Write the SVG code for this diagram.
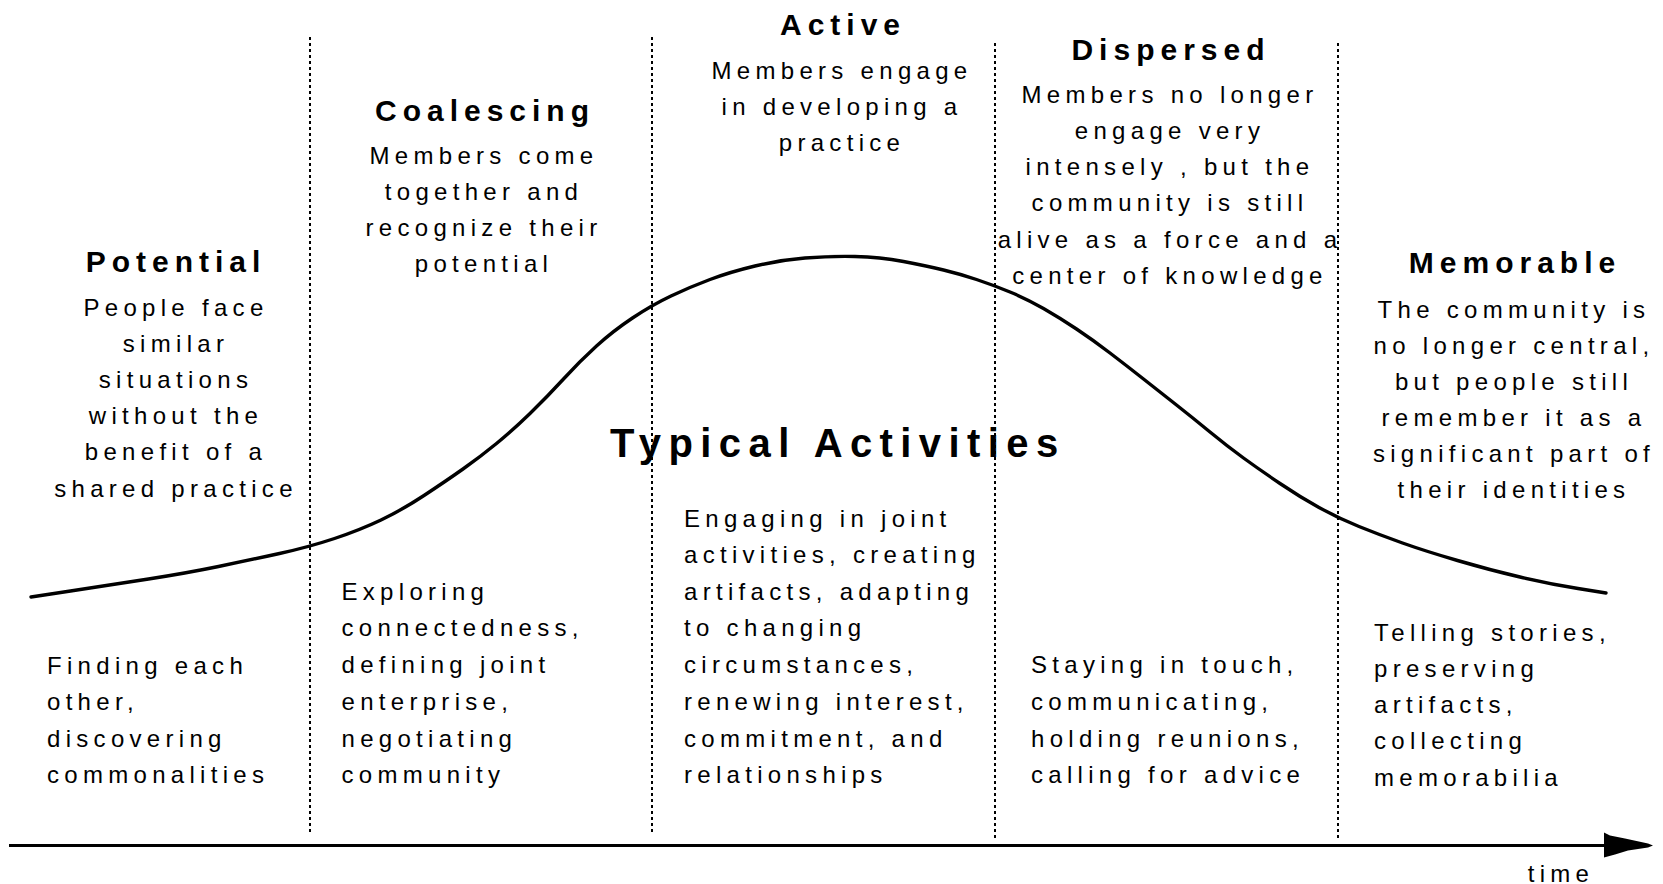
<svg xmlns="http://www.w3.org/2000/svg" width="1663" height="884" viewBox="0 0 1663 884">
<style>
text { font-family: "Liberation Sans", Arial, sans-serif; fill: #000; }
.h { font-weight: bold; font-size: 30px; letter-spacing: 6px; text-anchor: middle; }
.b { font-size: 24px; letter-spacing: 5.3px; text-anchor: middle; }
.l { font-size: 24px; letter-spacing: 5.3px; text-anchor: start; }
.t { font-weight: bold; font-size: 40px; letter-spacing: 7.4px; }
.div { stroke: #000; stroke-width: 2; stroke-dasharray: 3 3; fill: none; }
.curve { stroke: #000; stroke-width: 3.4; fill: none; stroke-linejoin: round; stroke-linecap: round; }
.axis { stroke: #000; stroke-width: 3; fill: none; }
</style>
<defs>
<marker id="arr" markerUnits="userSpaceOnUse" markerWidth="60" markerHeight="40" refX="0" refY="13" orient="auto" overflow="visible">
<polygon points="0,0 6,3 21,6 44,11 49,13 44,15 24,18 11,22 0,25" fill="#000"/>
</marker>
</defs>
<rect width="1663" height="884" fill="#fff"/>

<g id="dividers">
<line class="div" x1="310" y1="37" x2="310" y2="835"/>
<line class="div" x1="652" y1="37" x2="652" y2="835"/>
<line class="div" x1="995" y1="43" x2="995" y2="840"/>
<line class="div" x1="1338" y1="43" x2="1338" y2="840"/>
</g>

<g id="connectors">
<path class="axis" d="M9,845.5 H1604" marker-end="url(#arr)"/>
<path id="curve" class="curve" d="M31,597 L70.5,591 Q110,585 148.5,579 Q187,573 218.5,566.5 Q250,560 279.5,553.5 Q309,547 334.5,538.5 Q360,530 381,520 Q402,510 424,495.5 Q446,481 463,469 Q480,457 496.5,443.5 Q513,430 530,413.5 Q547,397 563.5,379 Q580,361 596.5,346 Q613,331 632.5,318 Q652,305 671,296 Q690,287 710,279.5 Q730,272 755,266 Q780,260 805,258 Q830,256 855,256.5 Q880,257 903.5,261.5 Q927,266 943.5,270 Q960,274 976.5,279.5 Q993,285 1010,292 Q1027,299 1043.5,308.5 Q1060,318 1076.5,329 Q1093,340 1110,353 Q1127,366 1143.5,379 Q1160,392 1176.5,405 Q1193,418 1210,432 Q1227,446 1243.5,458 Q1260,470 1280,483.5 Q1300,497 1319,507.5 Q1338,518 1359,526.5 Q1380,535 1402.5,543 Q1425,551 1457.5,560.5 Q1490,570 1520,577 Q1550,584 1578,588.5 L1606,593"/>
</g>

<g id="potential">
<text class="h" x="176" y="272">Potential</text>
<text class="b" x="176" y="316">People face</text>
<text class="b" x="176" y="352">similar</text>
<text class="b" x="176" y="388">situations</text>
<text class="b" x="176" y="424">without the</text>
<text class="b" x="176" y="460">benefit of a</text>
<text class="b" x="176" y="497">shared practice</text>
</g>

<g id="coalescing">
<text class="h" x="485" y="121">Coalescing</text>
<text class="b" x="484" y="164">Members come</text>
<text class="b" x="484" y="200">together and</text>
<text class="b" x="484" y="236">recognize their</text>
<text class="b" x="484" y="272">potential</text>
</g>

<g id="active">
<text class="h" x="843" y="35">Active</text>
<text class="b" x="842" y="79">Members engage</text>
<text class="b" x="842" y="115">in developing a</text>
<text class="b" x="842" y="151">practice</text>
</g>

<g id="dispersed">
<text class="h" x="1171" y="60">Dispersed</text>
<text class="b" x="1170" y="102.5">Members no longer</text>
<text class="b" x="1170" y="139">engage very</text>
<text class="b" x="1170" y="175">intensely , but the</text>
<text class="b" x="1170" y="211">community is still</text>
<text class="b" x="1170" y="247.5">alive as a force and a</text>
<text class="b" x="1170" y="284">center of knowledge</text>
</g>

<g id="memorable">
<text class="h" x="1515" y="273">Memorable</text>
<text class="b" x="1514" y="318">The community is</text>
<text class="b" x="1514" y="354">no longer central,</text>
<text class="b" x="1514" y="390">but people still</text>
<text class="b" x="1514" y="426">remember it as a</text>
<text class="b" x="1514" y="462">significant part of</text>
<text class="b" x="1514" y="498">their identities</text>
</g>

<g id="typical-activities">
<text class="t" x="610" y="457">Typical Activities</text>
</g>

<g id="act-potential">
<text class="l" x="47" y="673.5">Finding each</text>
<text class="l" x="47" y="710">other,</text>
<text class="l" x="47" y="746.5">discovering</text>
<text class="l" x="47" y="783">commonalities</text>
</g>

<g id="act-coalescing">
<text class="l" x="341.5" y="600">Exploring</text>
<text class="l" x="341.5" y="636">connectedness,</text>
<text class="l" x="341.5" y="673">defining joint</text>
<text class="l" x="341.5" y="709.5">enterprise,</text>
<text class="l" x="341.5" y="746.5">negotiating</text>
<text class="l" x="341.5" y="783">community</text>
</g>

<g id="act-active">
<text class="l" x="684" y="527">Engaging in joint</text>
<text class="l" x="684" y="563">activities, creating</text>
<text class="l" x="684" y="600">artifacts, adapting</text>
<text class="l" x="684" y="636">to changing</text>
<text class="l" x="684" y="673">circumstances,</text>
<text class="l" x="684" y="709.5">renewing interest,</text>
<text class="l" x="684" y="746.5">commitment, and</text>
<text class="l" x="684" y="783">relationships</text>
</g>

<g id="act-dispersed">
<text class="l" x="1031" y="673">Staying in touch,</text>
<text class="l" x="1031" y="709.5">communicating,</text>
<text class="l" x="1031" y="746.5">holding reunions,</text>
<text class="l" x="1031" y="783">calling for advice</text>
</g>

<g id="act-memorable">
<text class="l" x="1374" y="640.5">Telling stories,</text>
<text class="l" x="1374" y="676.5">preserving</text>
<text class="l" x="1374" y="713">artifacts,</text>
<text class="l" x="1374" y="749">collecting</text>
<text class="l" x="1374" y="785.5">memorabilia</text>
</g>

<g id="time-label">
<text class="b" x="1561" y="882">time</text>
</g>
</svg>
